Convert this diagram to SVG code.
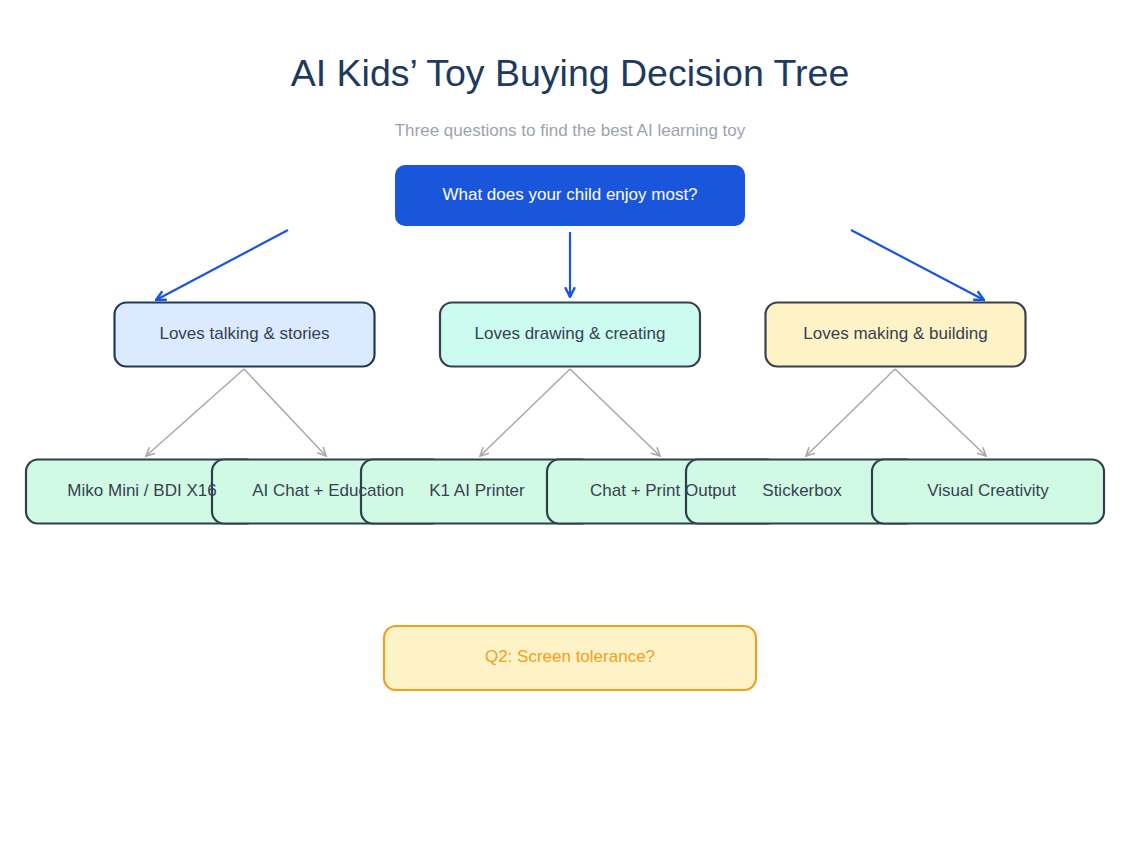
<svg xmlns="http://www.w3.org/2000/svg" width="1140" height="855" viewBox="0 0 1140 855">
<style>
text{font-family:"Liberation Sans",Arial,sans-serif;text-anchor:middle;dominant-baseline:central}
.title{font-size:37.5px;fill:#1e3a5f}
.sub{font-size:17px;fill:#9ca3af}
.root{fill:#1a56db}
.roott{fill:#ffffff;font-size:17px}
.mid{stroke-width:2.2}
.midt{font-size:17px;fill:#374151}
.leaf{fill:#d1fae5;stroke:#2f3f4e;stroke-width:2.2}
.leaft{font-size:17px;fill:#374151}
.blue{stroke:#1a56db;stroke-width:2.2;fill:none}
.gray{stroke:#a8a8a8;stroke-width:1.5;fill:none}
</style>
<defs>
<marker id="ab" viewBox="0 0 10 10" refX="9" refY="5" markerWidth="5.5" markerHeight="5.5" orient="auto" markerUnits="strokeWidth">
<path d="M1,1 L9,5 L1,9" fill="none" stroke="#1a56db" stroke-width="2"/>
</marker>
<marker id="ag" viewBox="0 0 10 10" refX="9" refY="5" markerWidth="7" markerHeight="7" orient="auto" markerUnits="strokeWidth">
<path d="M1,1 L9,5 L1,9" fill="none" stroke="#a8a8a8" stroke-width="1.5"/>
</marker>
</defs>
<rect width="1140" height="855" fill="#ffffff"/>
<text class="title" x="570" y="73">AI Kids’ Toy Buying Decision Tree</text>
<text class="sub" x="570" y="130">Three questions to find the best AI learning toy</text>
<g id="connectors">
<line class="blue" x1="288" y1="230" x2="156" y2="300" marker-end="url(#ab)"/>
<line class="blue" x1="570" y1="232" x2="570" y2="297" marker-end="url(#ab)"/>
<line class="blue" x1="851" y1="230" x2="984" y2="300" marker-end="url(#ab)"/>
<line class="gray" x1="244" y1="369" x2="146" y2="456" marker-end="url(#ag)"/>
<line class="gray" x1="244" y1="369" x2="326" y2="456" marker-end="url(#ag)"/>
<line class="gray" x1="570" y1="369" x2="480" y2="456" marker-end="url(#ag)"/>
<line class="gray" x1="570" y1="369" x2="660" y2="456" marker-end="url(#ag)"/>
<line class="gray" x1="895" y1="369" x2="806" y2="456" marker-end="url(#ag)"/>
<line class="gray" x1="895" y1="369" x2="986" y2="456" marker-end="url(#ag)"/>
</g>
<g id="root">
<rect class="root" x="395" y="165" width="350" height="61" rx="10"/>
<text class="roott" x="570" y="194">What does your child enjoy most?</text>
</g>
<g id="talking">
<rect class="mid" x="114.5" y="302.5" width="260" height="64" rx="12" fill="#dbeafe" stroke="#1e3a5f"/>
<text class="midt" x="244.5" y="333">Loves talking &amp; stories</text>
</g>
<g id="drawing">
<rect class="mid" x="440" y="302.5" width="260" height="64" rx="12" fill="#ccfbef" stroke="#374151"/>
<text class="midt" x="570" y="333">Loves drawing &amp; creating</text>
</g>
<g id="making">
<rect class="mid" x="765.5" y="302.5" width="260" height="64" rx="12" fill="#fef3c7" stroke="#374151"/>
<text class="midt" x="895.5" y="333">Loves making &amp; building</text>
</g>
<g id="leaf-boxes">
<g id="miko"><rect class="leaf" x="26" y="459.5" width="232" height="64" rx="12"/></g>
<g id="aichat"><rect class="leaf" x="212" y="459.5" width="232" height="64" rx="12"/></g>
<g id="k1"><rect class="leaf" x="361" y="459.5" width="232" height="64" rx="12"/></g>
<g id="chatprint"><rect class="leaf" x="547" y="459.5" width="232" height="64" rx="12"/></g>
<g id="stickerbox"><rect class="leaf" x="686" y="459.5" width="232" height="64" rx="12"/></g>
<g id="visual"><rect class="leaf" x="872" y="459.5" width="232" height="64" rx="12"/></g>
</g>
<g id="leaf-labels">
<text id="miko-label" class="leaft" x="142" y="490">Miko Mini / BDI X16</text>
<text id="aichat-label" class="leaft" x="328" y="490">AI Chat + Education</text>
<text id="k1-label" class="leaft" x="477" y="490">K1 AI Printer</text>
<text id="chatprint-label" class="leaft" x="663" y="490">Chat + Print Output</text>
<text id="stickerbox-label" class="leaft" x="802" y="490">Stickerbox</text>
<text id="visual-label" class="leaft" x="988" y="490">Visual Creativity</text>
</g>
<g id="q2">
<rect x="384" y="626" width="372" height="64" rx="12" fill="#fef3c7" stroke="#f0a020" stroke-width="2.2"/>
<text x="570" y="656" style="font-size:17px;fill:#f0a020">Q2: Screen tolerance?</text>
</g>
</svg>
